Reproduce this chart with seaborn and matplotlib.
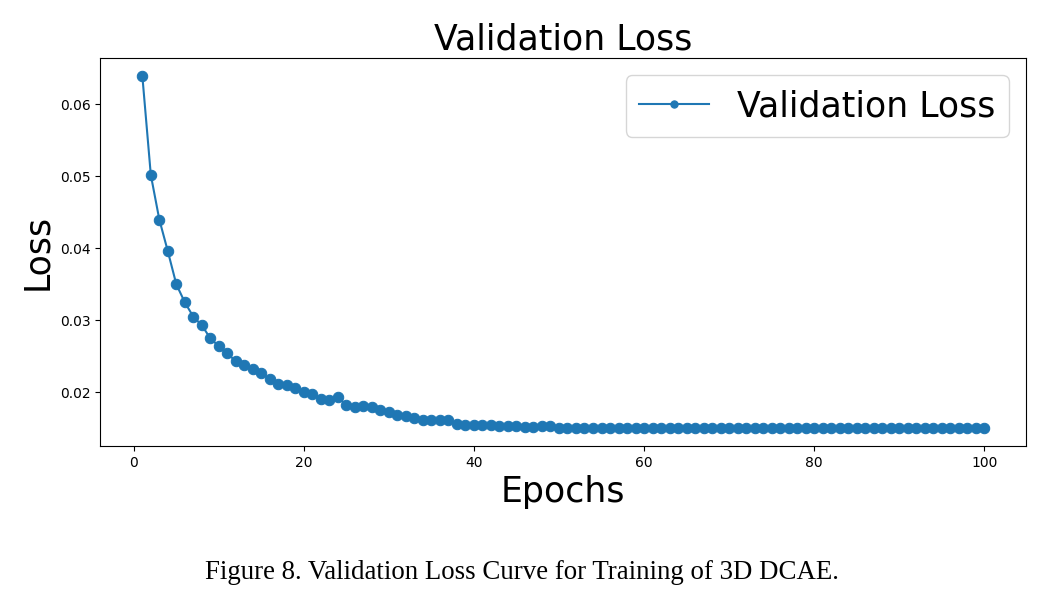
import numpy as np
import matplotlib
matplotlib.use("Agg")
import matplotlib.pyplot as plt
import seaborn as sns

# validation loss per epoch
epochs = list(range(1, 101))
loss_1_25 = [0.0640, 0.0502, 0.0440, 0.0396, 0.0350, 0.0325, 0.0305, 0.0293, 0.0275, 0.0264,
             0.0254, 0.0243, 0.0238, 0.0232, 0.0227, 0.0218, 0.0212, 0.0210, 0.0206, 0.0200,
             0.0197, 0.0191, 0.0190, 0.0193, 0.0182]
loss_26_50 = [0.0179, 0.0181, 0.0179, 0.0175, 0.0172, 0.0169, 0.0167, 0.0165, 0.0162, 0.0161,
              0.0161, 0.0161, 0.0156, 0.0155, 0.0155, 0.0154, 0.0154, 0.0153, 0.0153, 0.0153,
              0.0152, 0.0152, 0.0153, 0.0153, 0.0151]
loss_51_100 = [0.0150] * 50
loss = loss_1_25 + loss_26_50 + loss_51_100

fig, ax = plt.subplots(figsize=(10.44, 6.01), dpi=100)
sns.lineplot(x=epochs, y=loss, marker='o', markersize=7.5, color='#1f77b4',
             markeredgecolor='#1f77b4', linewidth=1.5, label='Validation Loss', ax=ax)

ax.set_title('Validation Loss', fontsize=25)
ax.set_xlabel('Epochs', fontsize=25)
ax.set_ylabel('Loss', fontsize=25)
ax.set_xticks([0, 20, 40, 60, 80, 100])
ax.set_yticks([0.02, 0.03, 0.04, 0.05, 0.06])
ax.tick_params(labelsize=10)
ax.legend(loc='upper right', fontsize=25, markerscale=0.7)

plt.subplots_adjust(left=0.096, right=0.983, top=0.9035, bottom=0.258)
fig.text(0.5, 0.048, 'Figure 8. Validation Loss Curve for Training of 3D DCAE.',
         ha='center', va='center', fontsize=19.4, family='Liberation Serif')
plt.savefig('out.png', dpi=100)
